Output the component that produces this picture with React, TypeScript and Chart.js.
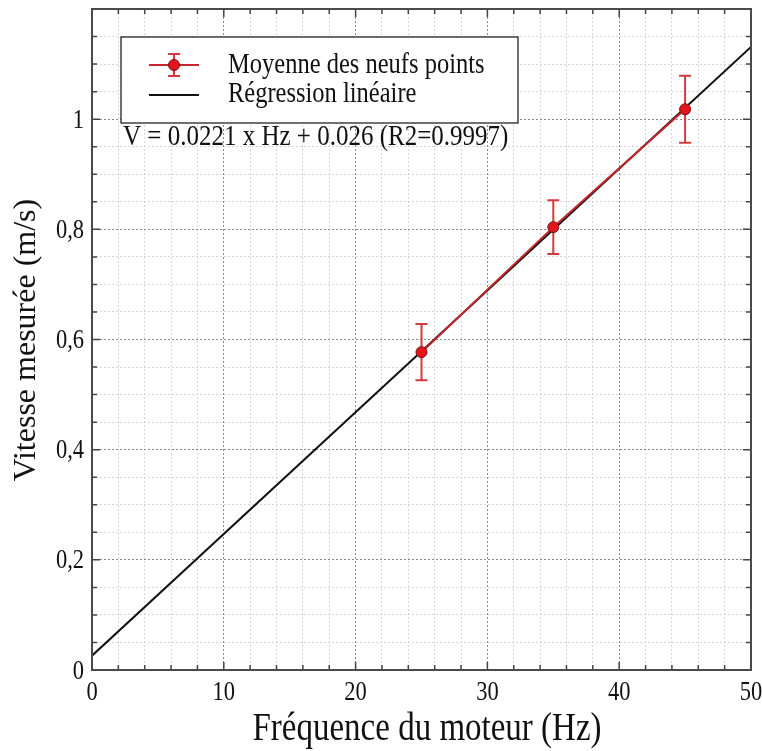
import React, { useEffect, useRef } from "react";
import { Chart, registerables } from "chart.js";

Chart.register(...registerables);

// Measured motor frequencies (Hz) and mean speeds of the nine points (m/s)
const frequencies = [25, 35, 45];
const meanSpeeds = [0.577, 0.804, 1.018];
const speedErrors = [0.051, 0.049, 0.061];

// Linear regression stated in the annotation
const regressionSlope = 0.0221;
const regressionIntercept = 0.026;
const regressionR2 = 0.9997;
const regressionRange = [0, 50];

// Axis ticks
const xMajorTicks = [0, 10, 20, 30, 40, 50];
const yMajorTicks = [0, 0.2, 0.4, 0.6, 0.8, 1];
const yTickLabels = ["0", "0,2", "0,4", "0,6", "0,8", "1"];

const legendLabels = ["Moyenne des neufs points", "Régression linéaire"];
const xTitle = "Fréquence du moteur (Hz)";
const yTitle = "Vitesse mesurée (m/s)";
const equationText = `V = ${regressionSlope} x Hz + ${regressionIntercept} (R2=${regressionR2})`;

const SERIF = '"Liberation Serif", "Times New Roman", serif';
const RED_LINE = "#c4262c";
const RED_BAR = "#d23a3f";
const RED_FILL = "#e3141c";
const RED_EDGE = "#7d1212";

const isMultiple = (v: number, step: number) =>
  Math.abs(v / step - Math.round(v / step)) < 1e-6;

function drawText(
  ctx: CanvasRenderingContext2D,
  text: string,
  x: number,
  y: number,
  size: number,
  align: CanvasTextAlign,
  stretch = 1.2
) {
  ctx.save();
  ctx.translate(x, y);
  ctx.scale(1, stretch);
  ctx.font = `${size}px ${SERIF}`;
  ctx.fillStyle = "#111";
  ctx.textAlign = align;
  ctx.textBaseline = "alphabetic";
  ctx.fillText(text, 0, 0);
  ctx.restore();
}

function errorBar(
  ctx: CanvasRenderingContext2D,
  x: number,
  yTop: number,
  yBottom: number,
  cap: number
) {
  ctx.beginPath();
  ctx.moveTo(x, yTop);
  ctx.lineTo(x, yBottom);
  ctx.moveTo(x - cap, yTop);
  ctx.lineTo(x + cap, yTop);
  ctx.moveTo(x - cap, yBottom);
  ctx.lineTo(x + cap, yBottom);
  ctx.stroke();
}

// Error bars sit above the regression line and below the red markers
const errorBarPlugin = {
  id: "errorBars",
  afterDatasetDraw(chart: any, args: any) {
    if (args.index !== 1) return;
    const { ctx, scales } = chart;
    ctx.save();
    ctx.strokeStyle = RED_BAR;
    ctx.lineWidth = 2;
    frequencies.forEach((f, i) => {
      const x = scales.x.getPixelForValue(f);
      const yt = scales.y.getPixelForValue(meanSpeeds[i] + speedErrors[i]);
      const yb = scales.y.getPixelForValue(meanSpeeds[i] - speedErrors[i]);
      errorBar(ctx, x, yt, yb, 6);
    });
    ctx.restore();
  },
};

// Frame, inward ticks, labels, titles, legend and equation
const decorationPlugin = {
  id: "decorations",
  afterDraw(chart: any) {
    const { ctx, chartArea: a, scales } = chart;
    const xs = scales.x;
    const ys = scales.y;
    ctx.save();

    // inward tick marks on all four sides
    ctx.strokeStyle = "#444";
    ctx.lineWidth = 1.5;
    ctx.beginPath();
    xs.ticks.forEach((t: any) => {
      const px = xs.getPixelForValue(t.value);
      const len = isMultiple(t.value, 10) ? 8 : 5;
      ctx.moveTo(px, a.bottom);
      ctx.lineTo(px, a.bottom - len);
      ctx.moveTo(px, a.top);
      ctx.lineTo(px, a.top + len);
    });
    ys.ticks.forEach((t: any) => {
      const py = ys.getPixelForValue(t.value);
      const len = isMultiple(t.value, 0.2) ? 8 : 5;
      ctx.moveTo(a.left, py);
      ctx.lineTo(a.left + len, py);
      ctx.moveTo(a.right, py);
      ctx.lineTo(a.right - len, py);
    });
    ctx.stroke();

    // frame
    ctx.strokeStyle = "#4a4a4a";
    ctx.lineWidth = 2;
    ctx.strokeRect(a.left, a.top, a.right - a.left, a.bottom - a.top);

    // tick labels
    xMajorTicks.forEach((v) => {
      drawText(ctx, String(v), xs.getPixelForValue(v), a.bottom + 30, 22.5, "center");
    });
    yMajorTicks.forEach((v, i) => {
      drawText(ctx, yTickLabels[i], a.left - 8, ys.getPixelForValue(v) + 8.5, 22.5, "right");
    });

    // axis titles
    drawText(ctx, xTitle, 427, 740, 33, "center");
    ctx.save();
    ctx.translate(35, 340);
    ctx.rotate(-Math.PI / 2);
    ctx.font = `32px ${SERIF}`;
    ctx.fillStyle = "#111";
    ctx.textAlign = "center";
    ctx.textBaseline = "alphabetic";
    ctx.fillText(yTitle, 0, 0);
    ctx.restore();

    // legend box
    const lx = 121, ly = 37, lw = 397, lh = 86;
    ctx.fillStyle = "#fff";
    ctx.fillRect(lx, ly, lw, lh);
    ctx.strokeStyle = "#111";
    ctx.lineWidth = 1.2;
    ctx.strokeRect(lx, ly, lw, lh);

    // legend: mean points symbol
    ctx.strokeStyle = RED_LINE;
    ctx.lineWidth = 2;
    ctx.beginPath();
    ctx.moveTo(149, 65);
    ctx.lineTo(199, 65);
    ctx.stroke();
    ctx.strokeStyle = RED_BAR;
    errorBar(ctx, 174, 54, 76, 6);
    ctx.beginPath();
    ctx.arc(174, 65, 5.5, 0, Math.PI * 2);
    ctx.fillStyle = RED_FILL;
    ctx.fill();
    ctx.strokeStyle = RED_EDGE;
    ctx.lineWidth = 1;
    ctx.stroke();

    // legend: regression symbol
    ctx.strokeStyle = "#111";
    ctx.lineWidth = 2;
    ctx.beginPath();
    ctx.moveTo(149, 95);
    ctx.lineTo(199, 95);
    ctx.stroke();

    drawText(ctx, legendLabels[0], 228, 73, 24.5, "left");
    drawText(ctx, legendLabels[1], 228, 102, 24.5, "left");

    // regression equation
    drawText(ctx, equationText, 123, 145, 25, "left");

    ctx.restore();
  },
};

export default function App() {
  const canvasRef = useRef<HTMLCanvasElement | null>(null);

  useEffect(() => {
    document.body.style.margin = "0";
    const canvas = canvasRef.current;
    if (!canvas) return;

    const meanPoints = frequencies.map((f, i) => ({ x: f, y: meanSpeeds[i] }));
    const regressionPoints = regressionRange.map((f) => ({
      x: f,
      y: regressionSlope * f + regressionIntercept,
    }));

    const chart = new Chart(canvas, {
      type: "line",
      data: {
        datasets: [
          {
            label: legendLabels[0],
            data: meanPoints,
            borderColor: RED_LINE,
            borderWidth: 2,
            pointRadius: 5.5,
            pointBackgroundColor: RED_FILL,
            pointBorderColor: RED_EDGE,
            pointBorderWidth: 1,
            tension: 0,
          },
          {
            label: legendLabels[1],
            data: regressionPoints,
            borderColor: "#111",
            borderWidth: 2,
            pointRadius: 0,
            tension: 0,
          },
        ],
      },
      options: {
        responsive: false,
        animation: false,
        layout: { padding: { top: 9, right: 11, left: 0, bottom: 0 } },
        plugins: {
          legend: { display: false },
          tooltip: { enabled: false },
        },
        scales: {
          x: {
            type: "linear",
            min: 0,
            max: 50,
            ticks: { display: false, stepSize: 2, autoSkip: false, maxTicksLimit: 100 },
            grid: {
              drawTicks: false,
              lineWidth: 1,
              color: (c: any) =>
                isMultiple(c.tick.value, 10) ? "#8a8a8a" : "#d6d6d6",
            },
            border: { display: false, dash: [2, 2] },
            afterFit: (s: any) => {
              s.height = 81;
            },
          },
          y: {
            type: "linear",
            min: 0,
            max: 1.2,
            ticks: { display: false, stepSize: 0.05, autoSkip: false, maxTicksLimit: 100 },
            grid: {
              drawTicks: false,
              lineWidth: 1,
              color: (c: any) =>
                isMultiple(c.tick.value, 0.2) ? "#8a8a8a" : "#d6d6d6",
            },
            border: { display: false, dash: [2, 2] },
            afterFit: (s: any) => {
              s.width = 92;
            },
          },
        },
      },
      plugins: [errorBarPlugin, decorationPlugin],
    });

    return () => chart.destroy();
  }, []);

  return (
    <div style={{ width: 762, height: 751 }}>
      <canvas ref={canvasRef} width={762} height={751} />
    </div>
  );
}
